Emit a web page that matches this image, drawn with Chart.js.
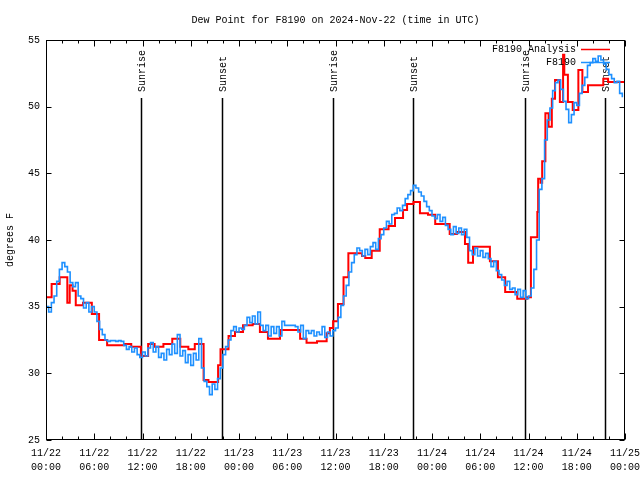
<!DOCTYPE html>
<html><head><meta charset="utf-8">
<script src="https://cdn.jsdelivr.net/npm/chart.js@4/dist/chart.umd.min.js"></script>
<style>html,body{margin:0;padding:0;background:#fff}#wrap{width:640px;height:480px}</style>
</head><body><div id="wrap"><canvas id="c" width="640" height="480"></canvas></div>
<script>
const titleText = 'Dew Point for F8190 on 2024-Nov-22 (time in UTC)';
const yAxisTitle = 'degrees F';
const xTickDates = ['11/22','11/22','11/22','11/22','11/23','11/23','11/23','11/23','11/24','11/24','11/24','11/24','11/25'];
const xTickTimes = ['00:00','06:00','12:00','18:00','00:00','06:00','12:00','18:00','00:00','06:00','12:00','18:00','00:00'];
const seriesNames = ['F8190 Analysis', 'F8190'];

// Analysis (red) step series: hours since 11/22 00:00 UTC and value (deg F)
const analysisHours = [0,0.7,1.7,2.65,2.95,3.3,3.7,4.6,5.7,6.6,7.6,9.7,10.6,11.8,12.7,13.5,14.6,15.7,16.7,17.7,18.5,19.6,20.2,21.4,21.7,22.7,23.5,24.5,25.7,26.6,27.6,29.1,31.6,32.4,33.7,34.9,35.3,35.7,36.3,37.0,37.6,39.3,39.7,40.5,41.5,42.6,43.4,44.4,44.9,45.7,46.5,47.5,48.4,50.2,51.1,52.1,52.5,53.1,55.2,56.2,57.1,58.6,59.8,60.3,61.1,61.2,61.5,61.7,62.1,62.5,62.9,63.3,63.9,64.3,64.45,64.9,65.5,66.2,66.7,67.4,69.3,69.9,72];
const analysisValues = [35.7,36.7,37.2,35.3,36.6,36.2,35.1,35.3,34.45,32.5,32.1,32.2,32.0,31.3,32.2,32.0,32.2,32.6,32.0,31.8,32.2,29.5,29.35,30.6,31.8,32.8,33.1,33.6,33.7,33.1,32.6,33.25,32.6,32.3,32.4,33.0,33.4,33.9,35.2,37.2,39.0,38.8,38.65,39.2,40.8,41.05,41.65,42.25,42.7,42.85,42.0,41.9,41.2,40.45,40.6,39.7,38.3,39.5,38.4,37.2,36.1,35.6,35.7,40.2,42.1,44.6,44.3,45.9,49.5,48.5,50.6,52.0,50.35,53.9,52.4,50.35,49.75,52.75,51.1,51.6,52.1,51.85,51.85];

// Observations (blue), one value every 20 minutes from 11/22 00:00 UTC
const obsStepMinutes = 20;
const obsValues = [
35.0,34.6,35.3,35.8,36.9,37.8,38.3,38.0,37.6,36.8,36.5,36.8,
35.8,35.6,34.9,35.3,34.6,35.0,34.6,33.9,33.3,32.9,32.5,32.4,
32.45,32.45,32.4,32.45,32.4,32.1,31.8,32.0,31.6,31.9,31.4,31.2,
31.6,31.3,31.9,32.3,31.6,32.0,31.2,31.5,31.0,31.8,31.4,32.2,
31.5,32.9,31.3,31.7,30.8,31.4,30.6,31.5,31.0,32.6,30.4,29.4,
29.0,28.4,29.2,28.8,29.6,30.4,31.4,32.0,32.5,33.2,33.5,33.1,
33.4,33.3,33.6,34.2,33.8,34.3,33.7,34.6,33.6,33.2,33.6,32.8,
33.5,33.0,33.5,32.8,33.9,33.6,33.6,33.6,33.6,33.5,33.1,33.6,
32.6,33.2,33.0,33.2,32.8,33.1,32.9,33.5,32.7,33.1,32.8,33.2,
33.4,34.2,35.1,35.8,36.6,37.6,38.3,38.9,39.4,39.2,38.8,39.3,
38.9,39.5,39.8,39.3,40.1,40.4,40.9,41.4,41.2,41.9,42.0,42.4,
42.2,42.6,43.1,43.4,43.7,44.1,43.9,43.6,43.3,42.9,42.5,42.2,
41.8,41.6,41.9,41.4,41.7,41.1,40.8,40.4,41.0,40.5,40.9,40.4,
40.8,40.2,39.2,38.9,39.4,38.8,39.2,38.7,39.0,38.6,38.0,38.4,
37.7,37.4,37.0,36.6,36.9,36.3,36.4,35.9,36.3,35.7,36.2,35.6,
35.8,36.4,37.8,40.0,43.8,44.6,47.5,49.0,49.9,51.2,51.8,52.0,
51.3,50.4,49.8,48.8,49.4,50.3,50.1,51.0,51.6,52.2,53.1,53.3,
53.6,53.4,53.8,53.5,53.2,52.8,52.4,52.1,51.8,51.9,51.0,50.7];

const sunEventHours = [11.82, 21.92, 35.72, 45.67, 59.6, 69.56];
const sunEventLabels = ['Sunrise','Sunset','Sunrise','Sunset','Sunrise','Sunset'];

const FONT = '"Liberation Mono", "DejaVu Sans Mono", monospace';
const analysisData = analysisHours.map((h, i) => ({x: h, y: analysisValues[i]}));
const obsData = obsValues.map((v, i) => ({x: i * obsStepMinutes / 60, y: v}));

const decor = {
  id: 'decor',
  beforeDatasetsDraw(chart) {
    const {ctx, chartArea: a, scales: {x}} = chart;
    ctx.save();
    ctx.strokeStyle = '#000';
    ctx.fillStyle = '#000';
    ctx.lineWidth = 1.5;
    ctx.font = '10px ' + FONT;
    sunEventHours.forEach((h, i) => {
      const px = Math.round(x.getPixelForValue(h)) + 0.5;
      ctx.beginPath();
      ctx.moveTo(px, a.bottom);
      ctx.lineTo(px, a.top + 58);
      ctx.stroke();
      ctx.save();
      ctx.translate(px + 1, a.top + 52);
      ctx.rotate(-Math.PI / 2);
      ctx.textAlign = 'left';
      ctx.textBaseline = 'middle';
      ctx.fillText(sunEventLabels[i], 0, 0);
      ctx.restore();
    });
    ctx.restore();
  },
  afterDatasetsDraw(chart) {
    const {ctx, chartArea: a, scales: {x, y}} = chart;
    ctx.save();
    ctx.strokeStyle = '#000';
    ctx.lineWidth = 1;
    const L = Math.round(a.left) + 0.5, R = Math.round(a.right) - 0.5;
    const T = Math.round(a.top) + 0.5, B = Math.round(a.bottom) - 0.5;
    ctx.strokeRect(L, T, R - L, B - T);
    ctx.beginPath();
    for (let h = 0; h <= 72; h += 2) {
      const px = Math.round(x.getPixelForValue(h)) + 0.5;
      const len = (h % 6 === 0) ? 6 : 3;
      ctx.moveTo(px, B); ctx.lineTo(px, B - len);
      ctx.moveTo(px, T); ctx.lineTo(px, T + len);
    }
    for (let v = 25; v <= 55; v += 5) {
      const py = Math.round(y.getPixelForValue(v)) + 0.5;
      ctx.moveTo(L, py); ctx.lineTo(L + 5, py);
      ctx.moveTo(R, py); ctx.lineTo(R - 5, py);
    }
    ctx.stroke();
    // legend
    const colors = ['#ff0000', '#1e90ff'];
    ctx.font = '10px ' + FONT;
    ctx.fillStyle = '#000';
    ctx.textAlign = 'right';
    ctx.textBaseline = 'middle';
    seriesNames.forEach((n, i) => {
      const ly = a.top + 9.5 + i * 13;
      ctx.fillText(n, a.right - 49, ly);
      ctx.strokeStyle = colors[i];
      ctx.lineWidth = 1.5;
      ctx.beginPath();
      ctx.moveTo(a.right - 44, ly);
      ctx.lineTo(a.right - 15, ly);
      ctx.stroke();
    });
    ctx.restore();
  }
};

Chart.defaults.font.family = FONT;
Chart.defaults.font.size = 10;
Chart.defaults.color = '#000';

new Chart(document.getElementById('c'), {
  type: 'line',
  data: {
    datasets: [
      {label: seriesNames[1], data: obsData, borderColor: '#1e90ff', borderWidth: 1.6, stepped: 'before', pointRadius: 0, fill: false, order: 0},
      {label: seriesNames[0], data: analysisData, borderColor: '#ff0000', borderWidth: 2, stepped: 'before', pointRadius: 0, fill: false, order: 1}
    ]
  },
  options: {
    responsive: false,
    animation: false,
    devicePixelRatio: 1,
    events: [],
    layout: {padding: {top: 0, right: 15, bottom: 0, left: 0}},
    plugins: {
      legend: {display: false},
      tooltip: {enabled: false},
      title: {display: true, text: titleText, fullSize: false, font: {size: 10, family: FONT, weight: 'normal'}, color: '#000', padding: {top: 14, bottom: 14}}
    },
    scales: {
      x: {
        type: 'linear', min: 0, max: 72,
        grid: {display: false, drawTicks: false}, border: {display: false},
        ticks: {stepSize: 6, autoSkip: false, maxRotation: 0, padding: 6, font: {size: 10, lineHeight: 1.4},
          callback: (v) => { const i = Math.round(v / 6); return [xTickDates[i], xTickTimes[i]]; }},
        afterFit: (s) => { s.height = 40; s.paddingLeft = 0; s.paddingRight = 0; }
      },
      y: {
        min: 25, max: 55,
        grid: {display: false, drawTicks: false}, border: {display: false},
        ticks: {stepSize: 5, padding: 6, font: {size: 10}},
        title: {display: true, text: yAxisTitle, font: {size: 10}, padding: {top: 4, bottom: 0}},
        afterFit: (s) => { s.width = 46; }
      }
    }
  },
  plugins: [decor]
});
</script>
</body></html>
